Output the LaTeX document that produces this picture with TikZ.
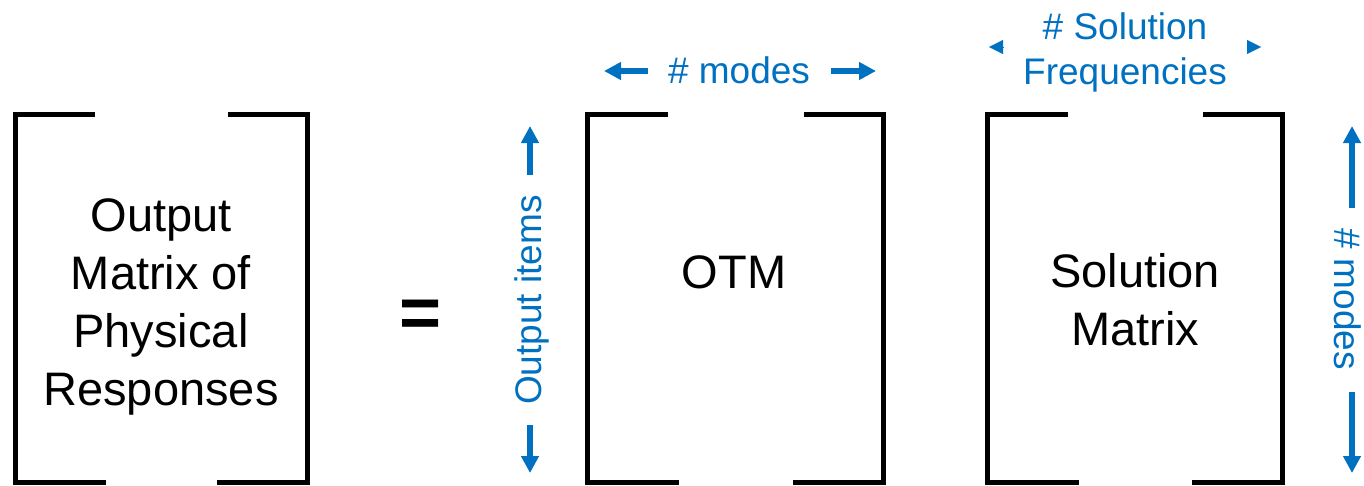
\documentclass[tikz,border=0pt]{standalone}
\usepackage{fontspec}
\setmainfont{Liberation Sans}
\usetikzlibrary{arrows.meta}
\definecolor{dimblue}{HTML}{0070C0}
\tikzset{
  frame/.style={minimum width=294pt, minimum height=367pt, inner sep=0pt, draw=none},
  bracket/.style={line width=5pt, black},
  bigtext/.style={font=\fontsize{47}{58}\selectfont, align=center, inner sep=0pt},
  dimtext/.style={font=\fontsize{37}{45}\selectfont, text=dimblue, align=center, inner sep=0pt},
  dimarrow/.style={line width=6pt, dimblue, -{Triangle[length=17pt,width=17pt]}},
  endtick/.style={dimblue, line width=0.1pt, -{Triangle[length=14pt,width=14pt]}}
}
% open square brackets drawn around a frame node
\newcommand\matbrackets[1]{%
  \draw[bracket] ([xshift=80pt]#1.north west) -- (#1.north west) -- (#1.south west) -- ([xshift=91pt]#1.south west);
  \draw[bracket] ([xshift=-79pt]#1.north east) -- (#1.north east) -- (#1.south east) -- ([xshift=-90pt]#1.south east);}
\begin{document}
\begin{tikzpicture}[x=1pt, y=-1pt]
\useasboundingbox (0,0) rectangle (1364,485);

% matrix frames
\node[frame, minimum width=291.5pt] (resp) at (161.25,298.5) {};
\node[frame, minimum width=295pt] (otm) at (735.5,298.5) {};
\node[frame] (sol) at (1135,298.5) {};
\matbrackets{resp}
\matbrackets{otm}
\matbrackets{sol}

% matrix contents
\node[bigtext, anchor=north] (resptext) at (161,198) {Output\\Matrix of\\Physical\\Responses};
\node[bigtext, anchor=base] (otmtext) at (734,288) {OTM};
\node[bigtext, anchor=north] (soltext) at (1135,253) {Solution\\Matrix};

% equals sign
\node[font=\fontsize{72}{80}\selectfont\bfseries, inner sep=0pt, anchor=base] (eq) at (420.5,337) {=};

% columns of the OTM
\node[dimtext, anchor=base] (modes) at (739,83) {\# modes};
\coordinate (modesL) at (604,71);
\coordinate (modesR) at (876,71);
\draw[dimarrow] ([xshift=-20pt]modes.west |- modesL) -- (modesL);
\draw[dimarrow] ([xshift=21pt]modes.east |- modesR) -- (modesR);

% rows of the OTM
\node[dimtext, rotate=90] (items) at (532,300) {Output items};
\coordinate (itemsT) at (530,126);
\coordinate (itemsB) at (530,473);
\draw[dimarrow] (itemsT |- 0,175) -- (itemsT);
\draw[dimarrow] (itemsB |- 0,425) -- (itemsB);

% columns of the solution matrix
\node[dimtext, anchor=north] (freq) at (1125,12) {\# Solution\\Frequencies};
\coordinate (freqL) at (989,47);
\coordinate (freqR) at (1261,47);
\draw[endtick] ([xshift=14pt]freqL) -- (freqL);
\draw[endtick] ([xshift=-14pt]freqR) -- (freqR);

% rows of the solution matrix
\node[dimtext, rotate=-90] (modesv) at (1348,299) {\# modes};
\coordinate (modesT) at (1352,126);
\coordinate (modesB) at (1352,473);
\draw[dimarrow] (modesT |- 0,208) -- (modesT);
\draw[dimarrow] (modesB |- 0,392) -- (modesB);
\end{tikzpicture}
\end{document}
